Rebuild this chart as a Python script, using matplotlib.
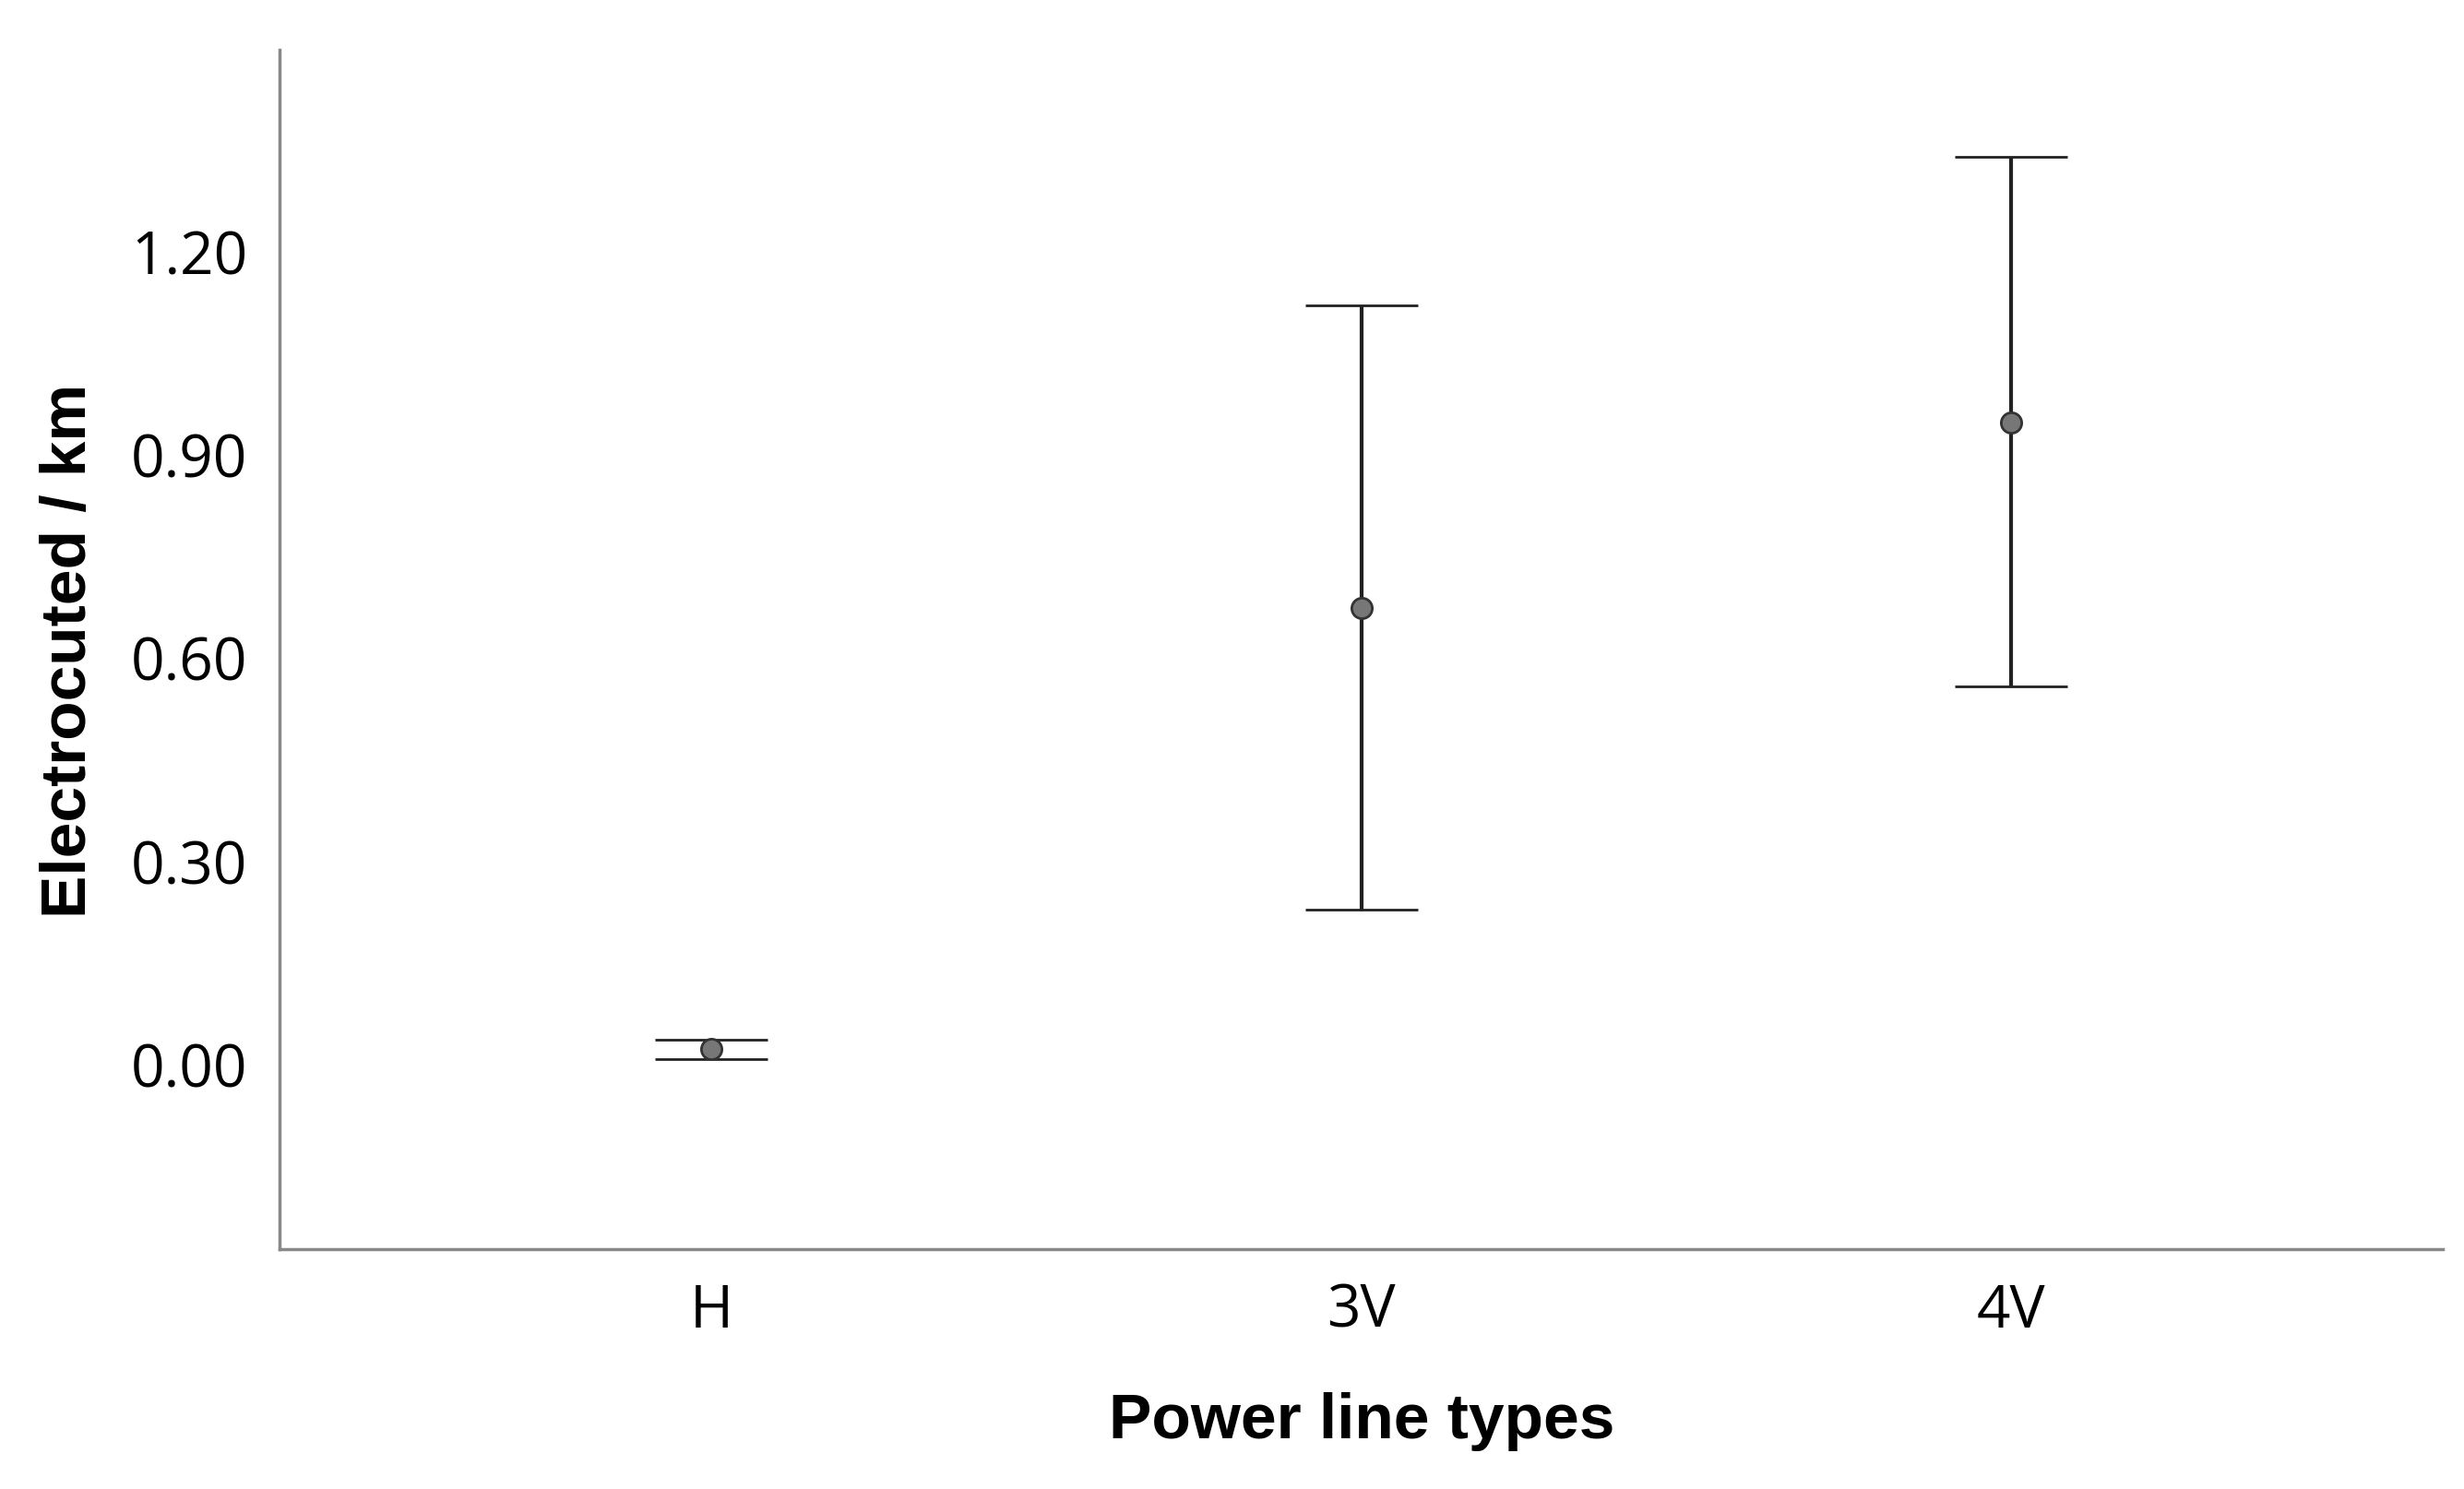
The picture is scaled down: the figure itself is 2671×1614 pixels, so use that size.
import matplotlib
matplotlib.use("Agg")
import matplotlib.pyplot as plt
import numpy as np

categories = ["H", "3V", "4V"]
means = [0.021, 0.673, 0.947]
lower = [0.007, 0.227, 0.557]
upper = [0.035, 1.119, 1.339]
yticks = [0.0, 0.3, 0.6, 0.9, 1.2]

fig = plt.figure(figsize=(26.71, 16.15), dpi=100)
ax = fig.add_axes([0.1135, 0.161, 0.878, 0.805])
x = np.arange(len(categories))
m = np.array(means)
yerr = [m - np.array(lower), np.array(upper) - m]
ax.errorbar(x, m, yerr=yerr, fmt='o', color='#222222', ecolor='#222222',
            elinewidth=3, capsize=44, capthick=3,
            markersize=16, markerfacecolor='#777777', markeredgecolor='#333333', markeredgewidth=2)
ax.set_xlim(-0.665, 2.665)
ax.set_ylim(-0.274, 1.497)
ax.set_xticks(x)
ax.set_xticklabels(categories)
ax.set_yticks(yticks)
ax.set_yticklabels([f"{v:.2f}" for v in yticks])
ax.tick_params(length=0, labelsize=46, pad=25)
for lab in ax.get_xticklabels() + ax.get_yticklabels():
    lab.set_family("Open Sans")
ax.spines['top'].set_visible(False)
ax.spines['right'].set_visible(False)
for s in ['left', 'bottom']:
    ax.spines[s].set_color('#888888')
    ax.spines[s].set_linewidth(2.5)
ax.set_xlabel("Power line types", fontsize=50, fontweight='bold', family='Liberation Sans', labelpad=40)
ax.set_ylabel("Electrocuted / km", fontsize=50, fontweight='bold', family='Liberation Sans', labelpad=25)
fig.savefig("out.png", dpi=100, facecolor='white')
